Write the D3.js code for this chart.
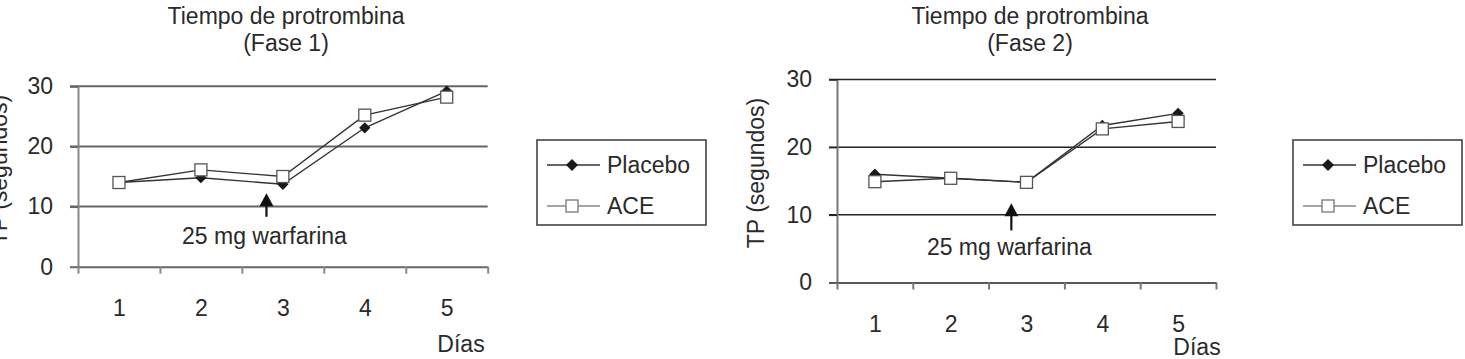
<!DOCTYPE html>
<html>
<head>
<meta charset="utf-8">
<script src="https://cdn.jsdelivr.net/npm/d3@7"></script>
<style>
  html, body { margin: 0; padding: 0; background: #fff; }
  svg { display: block; }
  text { font-family: "Liberation Sans", Arial, sans-serif; fill: #2a2a2a; }
</style>
</head>
<body>
<svg id="chart" width="1465" height="359"></svg>
<script>
// ---- data ----
const days = [1, 2, 3, 4, 5];
const dayLabels = ["1", "2", "3", "4", "5"];
const yTicks = [0, 10, 20, 30];
const seriesNames = ["Placebo", "ACE"];
const fase1Placebo = [14, 14.8, 13.7, 23.1, 29.2];
const fase1ACE = [14, 16.1, 15, 25.2, 28.2];
const fase2Placebo = [16, 15.4, 14.8, 23.2, 25];
const fase2ACE = [14.9, 15.4, 14.8, 22.7, 23.8];
const titles = ["Tiempo de protrombina", "(Fase 1)", "(Fase 2)"];
const yLabel = "TP (segundos)";
const xLabel = "Días";
const annotationText = "25 mg warfarina";
const annotationDay = 2.8;

const svg = d3.select("#chart");

function drawPanel(cfg) {
  const g = svg.append("g");
  const x = d3.scaleLinear().domain([0.5, 5.5]).range([cfg.x0, cfg.x1]);
  const y = d3.scaleLinear().domain([0, 30]).range([cfg.yb, cfg.yt]);

  // gridlines
  g.selectAll("line.grid").data(yTicks.filter(d => d > 0)).join("line")
    .attr("x1", cfg.x0 - 8).attr("x2", cfg.x1)
    .attr("y1", d => y(d)).attr("y2", d => y(d))
    .attr("stroke", cfg.gridColor).attr("stroke-width", cfg.gridWidth);

  // y axis
  const ya = g.append("g").attr("transform", `translate(${cfg.x0},0)`)
    .call(d3.axisLeft(y).tickValues(yTicks).tickSize(8).tickPadding(17).tickSizeOuter(0));
  ya.select(".domain").attr("stroke", cfg.axisColor).attr("stroke-width", cfg.axisWidth);
  ya.selectAll(".tick line").attr("stroke", cfg.gridColor).attr("stroke-width", cfg.gridWidth);
  ya.selectAll(".tick text").attr("font-size", 23).style("fill", "#2a2a2a");

  // x axis ticks (band boundaries)
  const bounds = d3.range(0.5, 6, 1);
  const xa = g.append("g").attr("transform", `translate(0,${cfg.yb})`)
    .call(d3.axisBottom(x).tickValues(bounds).tickSize(7).tickFormat("").tickSizeOuter(0));
  xa.select(".domain").attr("stroke", cfg.gridColor).attr("stroke-width", cfg.gridWidth);
  xa.selectAll(".tick line").attr("stroke", cfg.axisColor).attr("stroke-width", cfg.axisWidth);

  // x labels
  const xl = g.append("g").attr("transform", `translate(0,${cfg.yb})`)
    .call(d3.axisBottom(x).tickValues(days).tickFormat((d, i) => dayLabels[i]).tickSize(0).tickPadding(33));
  xl.select(".domain").remove();
  xl.selectAll(".tick text").attr("font-size", 23).style("fill", "#2a2a2a");

  // titles
  g.append("text").attr("x", cfg.titleX).attr("y", 24).attr("text-anchor", "middle")
    .attr("font-size", 23).text(titles[0]);
  g.append("text").attr("x", cfg.titleX).attr("y", 51).attr("text-anchor", "middle")
    .attr("font-size", 23).text(cfg.subtitle);

  // y label
  g.append("text")
    .attr("transform", `translate(${cfg.yLabelX},${cfg.yLabelY}) rotate(-90)`)
    .attr("text-anchor", "middle").attr("font-size", 23).text(yLabel);

  // x label
  g.append("text").attr("x", cfg.xLabelX).attr("y", cfg.xLabelY).attr("text-anchor", "middle")
    .attr("font-size", 23).text(xLabel);

  // annotation arrow
  const ax = x(annotationDay);
  const tipY = y(cfg.arrowTip), botY = y(cfg.arrowBottom);
  g.append("line").attr("x1", ax).attr("x2", ax).attr("y1", tipY + 10).attr("y2", botY)
    .attr("stroke", "#111").attr("stroke-width", 2.2);
  g.append("path")
    .attr("d", `M${ax},${tipY} L${ax - 7},${tipY + 13} L${ax + 7},${tipY + 13} Z`)
    .attr("fill", "#111");
  g.append("text").attr("x", ax - 2).attr("y", cfg.annotY).attr("text-anchor", "middle")
    .attr("font-size", 23).text(annotationText);

  // series
  const line = d3.line().x((d, i) => x(days[i])).y(d => y(d));
  const series = [
    { name: seriesNames[0], values: cfg.placebo },
    { name: seriesNames[1], values: cfg.ace }
  ];
  series.forEach((s) => {
    g.append("path").datum(s.values).attr("d", line)
      .attr("fill", "none").attr("stroke", "#333").attr("stroke-width", 1.4);
  });
  // placebo markers
  g.selectAll("path.dia").data(cfg.placebo).join("path")
    .attr("d", d3.symbol(d3.symbolSquare, 64)())
    .attr("transform", (d, i) => `translate(${x(days[i])},${y(d)}) rotate(45)`)
    .attr("fill", "#1a1a1a");
  // ACE markers
  g.selectAll("rect.sq").data(cfg.ace).join("rect")
    .attr("x", (d, i) => x(days[i]) - 6).attr("y", d => y(d) - 6)
    .attr("width", 12).attr("height", 12)
    .attr("fill", "#fff").attr("stroke", "#555").attr("stroke-width", 1.3);

  // legend
  const lg = g.append("g");
  lg.append("rect").attr("x", cfg.legX).attr("y", 140).attr("width", 169).attr("height", 85)
    .attr("fill", "#fff").attr("stroke", "#444").attr("stroke-width", 1.6);
  const rows = [165, 206];
  seriesNames.forEach((n, i) => {
    const ry = rows[i];
    lg.append("line").attr("x1", cfg.legX + 10).attr("x2", cfg.legX + 63)
      .attr("y1", ry).attr("y2", ry)
      .attr("stroke", i === 0 ? "#333" : "#888").attr("stroke-width", 1.6);
    if (i === 0) {
      lg.append("path").attr("d", d3.symbol(d3.symbolSquare, 72)())
        .attr("transform", `translate(${cfg.legX + 35},${ry}) rotate(45)`).attr("fill", "#1a1a1a");
    } else {
      lg.append("rect").attr("x", cfg.legX + 29).attr("y", ry - 6).attr("width", 12).attr("height", 12)
        .attr("fill", "#fff").attr("stroke", "#777").attr("stroke-width", 1.3);
    }
    lg.append("text").attr("x", cfg.legX + 70).attr("y", ry).attr("dy", "0.35em")
      .attr("font-size", 23).text(n);
  });
}

drawPanel({
  x0: 78, x1: 487.7, yt: 86.3, yb: 266.7,
  gridColor: "#666", gridWidth: 2, axisColor: "#888", axisWidth: 2,
  titleX: 286, subtitle: titles[1],
  yLabelX: 7, yLabelY: 170,
  xLabelX: 461, xLabelY: 352,
  arrowTip: 12.2, arrowBottom: 8.3, annotY: 244,
  placebo: fase1Placebo, ace: fase1ACE,
  legX: 537
});

drawPanel({
  x0: 837, x1: 1216, yt: 79.5, yb: 282.5,
  gridColor: "#222", gridWidth: 1.5, axisColor: "#777", axisWidth: 2,
  titleX: 1030, subtitle: titles[2],
  yLabelX: 764, yLabelY: 173,
  xLabelX: 1197, xLabelY: 355,
  arrowTip: 11.7, arrowBottom: 7.7, annotY: 255,
  placebo: fase2Placebo, ace: fase2ACE,
  legX: 1293
});
</script>
</body>
</html>
